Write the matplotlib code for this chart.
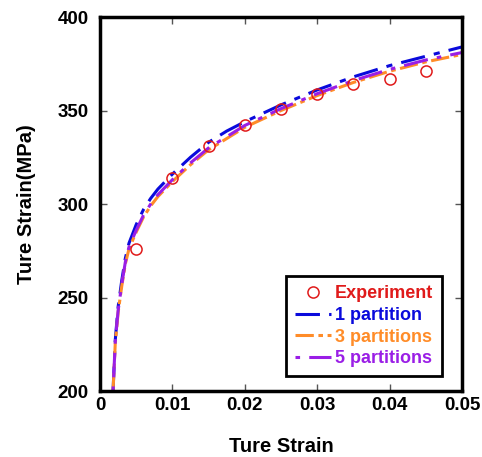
import matplotlib.pyplot as plt

plt.rcParams['font.family'] = ['Liberation Sans', 'DejaVu Sans']
plt.rcParams['font.weight'] = 'bold'

# experiment points
exp_strain = [0.005, 0.01, 0.015, 0.02, 0.025, 0.03, 0.035, 0.04, 0.045]
exp_stress = [276, 314, 331, 342, 351, 359, 364, 367, 371]

# simulated curves
sim_strain = [0.0018, 0.0021, 0.0025, 0.003, 0.0035, 0.004, 0.005, 0.006, 0.007, 0.008,
              0.01, 0.0125, 0.015, 0.0175, 0.02, 0.025, 0.03, 0.035, 0.04, 0.045, 0.05]
part1 = [200, 227, 245, 259, 271, 279, 289, 297, 303, 308,
         316, 325, 333, 339, 344, 353, 361, 368, 374, 379, 384]
part3 = [200, 225, 242, 256, 268, 276, 285, 293, 299, 304,
         312, 321, 329, 335, 341, 350, 358, 365, 371, 376, 380]
part5 = [200, 226, 243, 257, 269, 277, 286, 294, 300, 305,
         313, 322, 330, 336, 342, 351, 359, 366, 372, 377, 381]

fig = plt.figure(figsize=(4.82, 4.57), dpi=100)
ax = fig.add_axes([0.2075, 0.1444, 0.751, 0.8184])

ax.plot(sim_strain, part1, color='#0a0adc', lw=2.2, dashes=(8, 3, 2, 3), label='1 partition')
ax.plot(sim_strain, part3, color='#ff8c28', lw=2.2, dashes=(6, 1.5, 1.5, 1.5), label='3 partitions')
ax.plot(sim_strain, part5, color='#9a1ee6', lw=2.2, dashes=(1.5, 3, 8, 3), label='5 partitions')
ax.plot(exp_strain, exp_stress, 'o', mfc='none', mec='#e01a1a', ms=8, mew=1.1, label='Experiment',
        zorder=5)

ax.set_xlim(0, 0.05)
ax.set_ylim(200, 400)
ax.set_xticks([0, 0.01, 0.02, 0.03, 0.04, 0.05])
ax.set_xticklabels(['0', '0.01', '0.02', '0.03', '0.04', '0.05'])
ax.set_yticks([200, 250, 300, 350, 400])
ax.tick_params(direction='in', length=5, width=1, color='#555555', labelsize=13.5,
               top=True, right=True)
ax.tick_params(axis='x', pad=4)
ax.tick_params(axis='y', pad=8)
for s in ax.spines.values():
    s.set_linewidth(2.5)

ax.set_xlabel('Ture Strain', fontsize=14.5, fontweight='bold', labelpad=17)
ax.set_ylabel('Ture Strain(MPa)', fontsize=14.5, fontweight='bold', labelpad=16)

handles, labels = ax.get_legend_handles_labels()
order = [3, 0, 1, 2]
leg = ax.legend([handles[i] for i in order], [labels[i] for i in order],
                loc='lower right', bbox_to_anchor=(0.945, 0.04), fancybox=False,
                edgecolor='black', framealpha=1, handlelength=2.0, handletextpad=0.2,
                borderpad=0.5, labelspacing=0.25, borderaxespad=0,
                prop={'weight': 'bold', 'size': 13})
leg.get_frame().set_linewidth(2)
for txt, c in zip(leg.get_texts(), ['#e01a1a', '#0a0adc', '#ff8c28', '#9a1ee6']):
    txt.set_color(c)

fig.savefig('out.png', dpi=100)
